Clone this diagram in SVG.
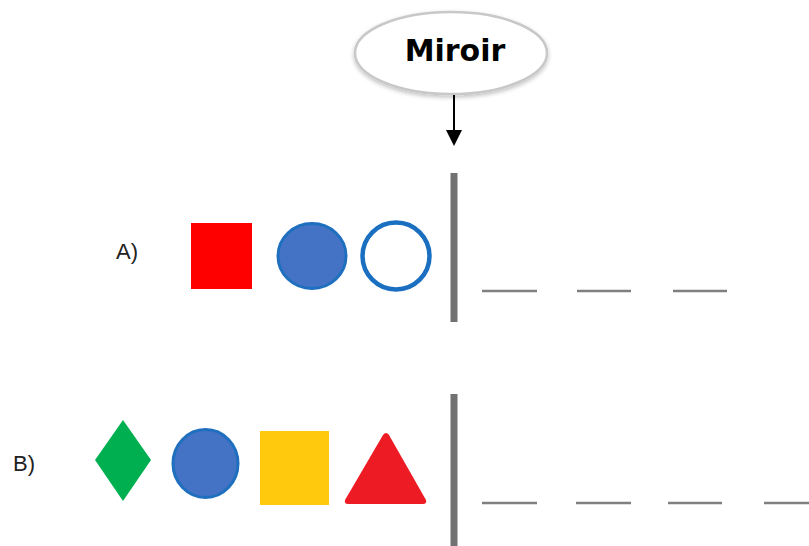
<svg xmlns="http://www.w3.org/2000/svg" width="809" height="546" viewBox="0 0 809 546">
<defs>
<style>
.lbl{font-family:"Liberation Sans",Arial,sans-serif;font-size:22px;fill:#222}
.mirror{stroke:#727272;stroke-width:7;fill:none}
.dash{stroke:#808080;stroke-width:2.5;fill:none}
.blue{fill:#4472C4;stroke:#1F6FBF;stroke-width:3}
</style>
<filter id="sh" x="-20%" y="-20%" width="140%" height="150%">
<feDropShadow dx="0" dy="2" stdDeviation="2" flood-color="#000" flood-opacity="0.25"/>
</filter>
</defs>
<rect width="809" height="546" fill="#fff"/>
<g id="miroir">
<ellipse cx="451" cy="53" rx="96" ry="41" fill="#fff" stroke="#c8c8c8" stroke-width="2.5" filter="url(#sh)"/>
<text x="455" y="61" text-anchor="middle" font-family="'DejaVu Sans',sans-serif" font-weight="bold" font-size="30" fill="#000">Miroir</text>
</g>
<g id="connectors">
<line x1="454" y1="95" x2="454" y2="131" stroke="#000" stroke-width="2"/>
<path d="M446,130 L462,130 L454,146 Z" fill="#000"/>
</g>
<g id="rowA">
<text class="lbl" x="116" y="259">A)</text>
<rect x="191" y="223" width="61" height="66" fill="#FF0000"/>
<ellipse cx="312" cy="256" rx="34" ry="32.5" class="blue"/>
<circle cx="396" cy="256" r="33.5" fill="#fff" stroke="#1A6FC0" stroke-width="4.5"/>
<line class="mirror" x1="454" y1="173" x2="454" y2="322"/>
<line class="dash" x1="482" y1="291" x2="537" y2="291"/>
<line class="dash" x1="577" y1="291" x2="631" y2="291"/>
<line class="dash" x1="673" y1="291" x2="727" y2="291"/>
</g>
<g id="rowB">
<text class="lbl" x="13" y="471">B)</text>
<polygon points="123,420 151,460 123,501 95,460" fill="#00B050"/>
<ellipse cx="205.5" cy="463.5" rx="32.5" ry="34" class="blue"/>
<rect x="260" y="431" width="69" height="74" fill="#FFC90E"/>
<path d="M383,435 Q386,431 389,435 L426,500 Q427,504 423,504 L348,504 Q344,504 345,500 Z" fill="#ED1C24"/>
<line class="mirror" x1="454" y1="394" x2="454" y2="546"/>
<line class="dash" x1="482" y1="503" x2="537" y2="503"/>
<line class="dash" x1="576" y1="503" x2="631" y2="503"/>
<line class="dash" x1="668" y1="503" x2="722" y2="503"/>
<line class="dash" x1="764" y1="503" x2="812" y2="503"/>
</g>
</svg>
